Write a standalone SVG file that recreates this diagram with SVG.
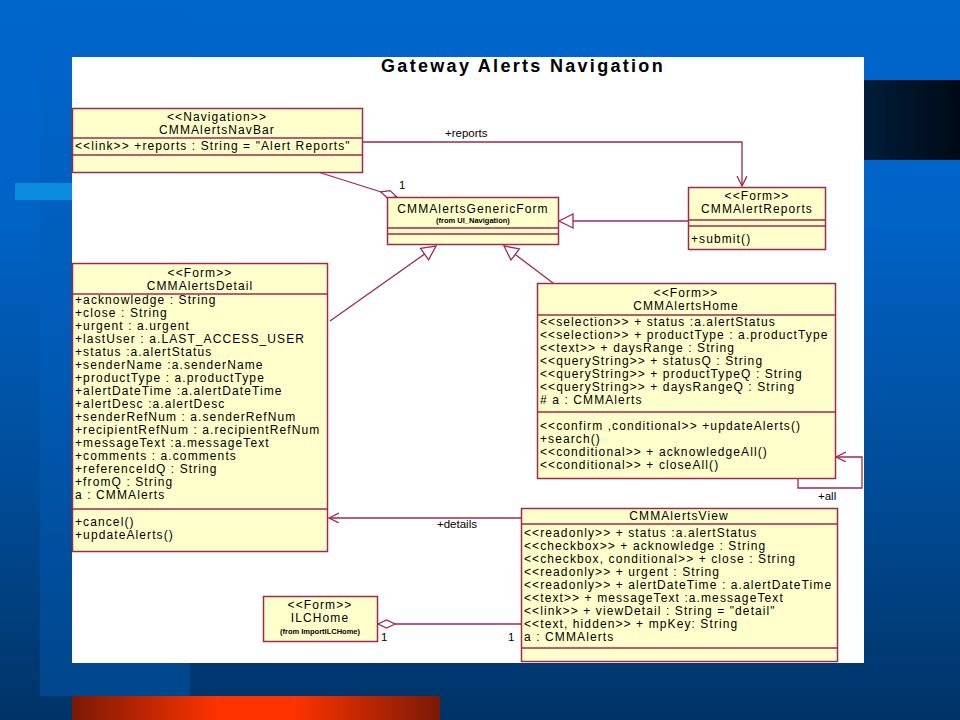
<svg xmlns="http://www.w3.org/2000/svg" width="960" height="720" viewBox="0 0 960 720">
<defs>
<linearGradient id="bg" x1="0" y1="0" x2="0" y2="1">
<stop offset="0" stop-color="#0066cc"/><stop offset="0.3" stop-color="#0063c6"/><stop offset="0.7" stop-color="#004a94"/><stop offset="1" stop-color="#003366"/>
</linearGradient>
<linearGradient id="col" x1="0" y1="0" x2="0" y2="1">
<stop offset="0" stop-color="#0066cc"/><stop offset="0.5" stop-color="#005bb6"/><stop offset="1" stop-color="#00468c"/>
</linearGradient>
<linearGradient id="dark" x1="0" y1="0" x2="1" y2="0">
<stop offset="0" stop-color="#001d3a"/><stop offset="1" stop-color="#000a16"/>
</linearGradient>
<linearGradient id="red" x1="0" y1="0" x2="1" y2="0">
<stop offset="0" stop-color="#7a1a06"/><stop offset="0.4" stop-color="#ff3300"/><stop offset="0.6" stop-color="#ff3300"/><stop offset="1" stop-color="#7a1a06"/>
</linearGradient>
<marker id="open" markerWidth="12" markerHeight="12" refX="10" refY="5" orient="auto" markerUnits="userSpaceOnUse">
<path d="M0,0 L10,5 L0,10" fill="none" stroke="#a0294f" stroke-width="1.3"/>
</marker>
<marker id="tri" markerWidth="18" markerHeight="18" refX="15" refY="8" orient="auto" markerUnits="userSpaceOnUse">
<path d="M1,1 L15,8 L1,15 Z" fill="#ffffff" stroke="#a0294f" stroke-width="1.3"/>
</marker>
<marker id="dia" markerWidth="20" markerHeight="12" refX="18" refY="5" orient="auto" markerUnits="userSpaceOnUse">
<path d="M1,5 L9.5,1 L18,5 L9.5,9 Z" fill="#ffffff" stroke="#a0294f" stroke-width="1.3"/>
</marker>
</defs>
<style>
.box{fill:#ffffcc;stroke:#a0294f;stroke-width:1.5}
.div{stroke:#a0294f;stroke-width:1.5}
.t{font-family:"Liberation Sans",Arial,sans-serif;font-size:12px;letter-spacing:1.1px;fill:#000}
.c{text-anchor:middle}
.s{font-family:"Liberation Sans",Arial,sans-serif;font-size:7.5px;font-weight:bold;fill:#000;text-anchor:middle}
.lbl{font-family:"Liberation Sans",Arial,sans-serif;font-size:11.5px;fill:#000}
.con{fill:none;stroke:#a0294f;stroke-width:1.3}
</style>
<rect x="0" y="0" width="960" height="720" fill="url(#bg)"/>
<rect x="40" y="0" width="150" height="696" fill="url(#col)"/>
<rect x="864" y="80" width="96" height="80" fill="url(#dark)"/>
<rect x="15" y="183" width="57" height="17" fill="#0a8cde"/>
<rect x="72" y="696" width="368" height="24" fill="url(#red)"/>
<rect x="72" y="57" width="792" height="606" fill="#ffffff"/>
<text x="523" y="72" style="font-family:'Liberation Sans',Arial,sans-serif;font-size:18px;font-weight:bold;letter-spacing:2.3px" text-anchor="middle">Gateway Alerts Navigation</text>

<g id="connectors">
<polyline class="con" points="362,142 742,142 742,186" marker-end="url(#open)"/>
<text class="lbl" x="445" y="137">+reports</text>
<line class="con" x1="318" y1="172" x2="397" y2="197" marker-end="url(#dia)"/>
<text class="lbl" x="399" y="189">1</text>
<text class="lbl" x="324" y="165">1</text>
<line class="con" x1="688" y1="221" x2="559" y2="221" marker-end="url(#tri)"/>
<line class="con" x1="330" y1="321" x2="436" y2="246" marker-end="url(#tri)"/>
<line class="con" x1="553" y1="283" x2="504" y2="246" marker-end="url(#tri)"/>
<polyline class="con" points="798,478 798,488 862,488 862,457 836,457" marker-end="url(#open)"/>
<text class="lbl" x="818" y="500">+all</text>
<line class="con" x1="521" y1="518" x2="329" y2="518" marker-end="url(#open)"/>
<text class="lbl" x="437" y="528">+details</text>
<line class="con" x1="521" y1="624" x2="378" y2="624" marker-end="url(#dia)"/>
<text class="lbl" x="381" y="641">1</text>
<text class="lbl" x="508" y="641">1</text>
</g>

<g id="navbar">
<rect class="box" x="72.5" y="108.5" width="290" height="64"/>
<line class="div" x1="72.5" y1="138" x2="362.5" y2="138"/>
<line class="div" x1="72.5" y1="155" x2="362.5" y2="155"/>
<text class="t c" x="217" y="121">&lt;&lt;Navigation&gt;&gt;</text>
<text class="t c" x="217" y="134">CMMAlertsNavBar</text>
<text class="t" x="75" y="150">&lt;&lt;link&gt;&gt; +reports : String = "Alert Reports"</text>
</g>

<g id="genericform">
<rect class="box" x="387.5" y="197.5" width="171" height="47"/>
<line class="div" x1="387.5" y1="228" x2="558.5" y2="228"/>
<line class="div" x1="387.5" y1="234" x2="558.5" y2="234"/>
<text class="t c" x="473" y="213">CMMAlertsGenericForm</text>
<text class="s" x="473" y="223">(from UI_Navigation)</text>
</g>

<g id="reports">
<rect class="box" x="688.5" y="187.5" width="137" height="62"/>
<line class="div" x1="688.5" y1="220" x2="825.5" y2="220"/>
<line class="div" x1="688.5" y1="226" x2="825.5" y2="226"/>
<text class="t c" x="757" y="200">&lt;&lt;Form&gt;&gt;</text>
<text class="t c" x="757" y="213">CMMAlertReports</text>
<text class="t" x="691" y="243">+submit()</text>
</g>

<g id="detail">
<rect class="box" x="72.5" y="263.5" width="255" height="288"/>
<line class="div" x1="72.5" y1="294" x2="327.5" y2="294"/>
<line class="div" x1="72.5" y1="509" x2="327.5" y2="509"/>
<text class="t c" x="200" y="277">&lt;&lt;Form&gt;&gt;</text>
<text class="t c" x="200" y="290">CMMAlertsDetail</text>
<text class="t" x="75" y="304">+acknowledge : String</text>
<text class="t" x="75" y="317">+close : String</text>
<text class="t" x="75" y="330">+urgent : a.urgent</text>
<text class="t" x="75" y="343">+lastUser : a.LAST_ACCESS_USER</text>
<text class="t" x="75" y="356">+status :a.alertStatus</text>
<text class="t" x="75" y="369">+senderName :a.senderName</text>
<text class="t" x="75" y="382">+productType : a.productType</text>
<text class="t" x="75" y="395">+alertDateTime :a.alertDateTime</text>
<text class="t" x="75" y="408">+alertDesc :a.alertDesc</text>
<text class="t" x="75" y="421">+senderRefNum : a.senderRefNum</text>
<text class="t" x="75" y="434">+recipientRefNum : a.recipientRefNum</text>
<text class="t" x="75" y="447">+messageText :a.messageText</text>
<text class="t" x="75" y="460">+comments : a.comments</text>
<text class="t" x="75" y="473">+referenceIdQ : String</text>
<text class="t" x="75" y="486">+fromQ : String</text>
<text class="t" x="75" y="499">a : CMMAlerts</text>
<text class="t" x="75" y="526">+cancel()</text>
<text class="t" x="75" y="539">+updateAlerts()</text>
</g>

<g id="home">
<rect class="box" x="537.5" y="283.5" width="298" height="195"/>
<line class="div" x1="537.5" y1="315" x2="835.5" y2="315"/>
<line class="div" x1="537.5" y1="412" x2="835.5" y2="412"/>
<text class="t c" x="686" y="297">&lt;&lt;Form&gt;&gt;</text>
<text class="t c" x="686" y="310">CMMAlertsHome</text>
<text class="t" x="540" y="326">&lt;&lt;selection&gt;&gt; + status :a.alertStatus</text>
<text class="t" x="540" y="339">&lt;&lt;selection&gt;&gt; + productType : a.productType</text>
<text class="t" x="540" y="352">&lt;&lt;text&gt;&gt; + daysRange : String</text>
<text class="t" x="540" y="365">&lt;&lt;queryString&gt;&gt; + statusQ : String</text>
<text class="t" x="540" y="378">&lt;&lt;queryString&gt;&gt; + productTypeQ : String</text>
<text class="t" x="540" y="391">&lt;&lt;queryString&gt;&gt; + daysRangeQ : String</text>
<text class="t" x="540" y="404"># a : CMMAlerts</text>
<text class="t" x="540" y="430">&lt;&lt;confirm ,conditional&gt;&gt; +updateAlerts()</text>
<text class="t" x="540" y="443">+search()</text>
<text class="t" x="540" y="456">&lt;&lt;conditional&gt;&gt; + acknowledgeAll()</text>
<text class="t" x="540" y="469">&lt;&lt;conditional&gt;&gt; + closeAll()</text>
</g>

<g id="view">
<rect class="box" x="521.5" y="508.5" width="316" height="153"/>
<line class="div" x1="521.5" y1="524" x2="837.5" y2="524"/>
<line class="div" x1="521.5" y1="648" x2="837.5" y2="648"/>
<text class="t c" x="679" y="520">CMMAlertsView</text>
<text class="t" x="524" y="537">&lt;&lt;readonly&gt;&gt; + status :a.alertStatus</text>
<text class="t" x="524" y="550">&lt;&lt;checkbox&gt;&gt; + acknowledge : String</text>
<text class="t" x="524" y="563">&lt;&lt;checkbox, conditional&gt;&gt; + close : String</text>
<text class="t" x="524" y="576">&lt;&lt;readonly&gt;&gt; + urgent : String</text>
<text class="t" x="524" y="589">&lt;&lt;readonly&gt;&gt; + alertDateTime : a.alertDateTime</text>
<text class="t" x="524" y="602">&lt;&lt;text&gt;&gt; + messageText :a.messageText</text>
<text class="t" x="524" y="615">&lt;&lt;link&gt;&gt; + viewDetail : String = "detail"</text>
<text class="t" x="524" y="628">&lt;&lt;text, hidden&gt;&gt; + mpKey: String</text>
<text class="t" x="524" y="641">a : CMMAlerts</text>
</g>

<g id="ilchome">
<rect class="box" x="263.5" y="596.5" width="114" height="45"/>
<text class="t c" x="320" y="609">&lt;&lt;Form&gt;&gt;</text>
<text class="t c" x="320" y="622">ILCHome</text>
<text class="s" x="320" y="634">(from ImportILCHome)</text>
</g>
</svg>
